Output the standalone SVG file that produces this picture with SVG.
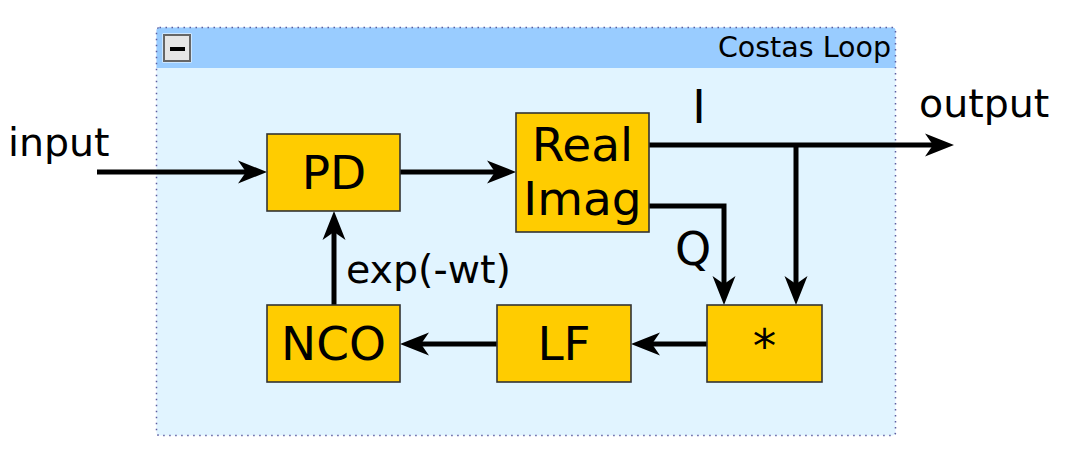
<svg xmlns="http://www.w3.org/2000/svg" width="1077" height="456" viewBox="0 0 1077 456">
<style>
text{font-family:"DejaVu Sans","Liberation Sans",sans-serif;fill:#000}
.box{fill:#ffcc00;stroke:#333;stroke-width:1.6}
.lbl{font-size:47px;text-anchor:middle}
.wire{fill:none;stroke:#000;stroke-width:5;stroke-linejoin:miter}
.arr{marker-end:url(#ah)}
</style>
<defs>
<marker id="ah" markerUnits="userSpaceOnUse" markerWidth="40" markerHeight="40" refX="0" refY="0" orient="auto" overflow="visible" viewBox="-20 -20 40 40">
<path d="M20,0 L-9,-11.5 L-1,0 L-9,11.5 Z" fill="#000"/>
</marker>
</defs>
<rect width="1077" height="456" fill="#fff"/>
<g id="container">
<rect x="156.5" y="27.5" width="739" height="408" rx="3" fill="#e1f4ff"/>
<path d="M156.5,68 V30.5 a3,3 0 0 1 3,-3 H892.5 a3,3 0 0 1 3,3 V68 Z" fill="#99ccff"/>
<rect x="156.5" y="27.5" width="739" height="408" rx="3" fill="none" stroke="#5c5ca0" stroke-width="1.5" stroke-dasharray="1.5,4.5"/>
<rect x="162.5" y="33.5" width="29" height="29" fill="#fff"/>
<rect x="164" y="35" width="26" height="26" fill="#e6e6e6" stroke="#666" stroke-width="2"/>
<rect x="170" y="47" width="15" height="4" fill="#000"/>
<text x="891" y="57" font-size="28.5" text-anchor="end">Costas Loop</text>
</g>
<g id="connectors">
<path class="wire arr" d="M97,172 H247"/>
<path class="wire arr" d="M400,172 H496"/>
<path class="wire arr" d="M649,145 H934"/>
<path class="wire arr" d="M796,145 V285"/>
<path class="wire arr" d="M649,206 H724 V285"/>
<path class="wire arr" d="M707,344 H651"/>
<path class="wire arr" d="M497,344 H420"/>
<path class="wire arr" d="M334,305 V231"/>
</g>
<g id="labels">
<text x="8" y="156" font-size="39.5">input</text>
<text x="919" y="117" font-size="39.5">output</text>
<text x="699" y="123" font-size="46" text-anchor="middle">I</text>
<text x="675" y="265" font-size="46">Q</text>
<text x="346" y="283" font-size="39.5">exp(-wt)</text>
</g>
<g id="PD"><rect class="box" x="267" y="134" width="133" height="77"/><text class="lbl" x="334" y="189">PD</text></g>
<g id="RealImag"><rect class="box" x="516" y="113" width="133" height="119"/><text class="lbl" x="582.5" y="161">Real</text><text class="lbl" x="582.5" y="215">Imag</text></g>
<g id="NCO"><rect class="box" x="267" y="305" width="133" height="77"/><text class="lbl" x="333.5" y="360">NCO</text></g>
<g id="LF"><rect class="box" x="497" y="305" width="134" height="77"/><text class="lbl" x="564" y="360">LF</text></g>
<g id="mult"><rect class="box" x="707" y="305" width="115" height="77"/><text class="lbl" x="764.5" y="362">*</text></g>
</svg>
